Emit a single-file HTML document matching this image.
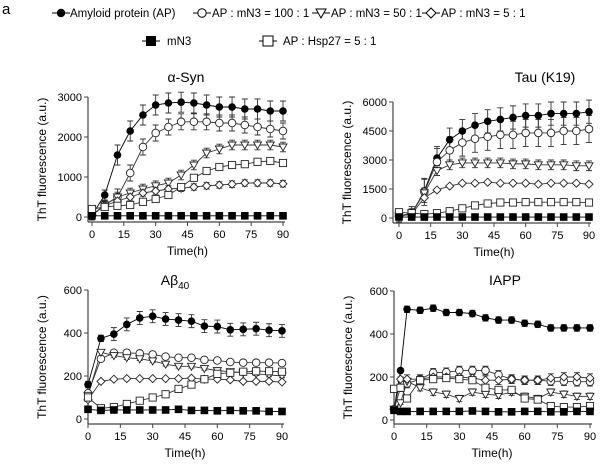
<!DOCTYPE html>
<html><head><meta charset="utf-8"><style>
html,body{margin:0;padding:0;background:#fff;}
svg{display:block;font-family:"Liberation Sans",sans-serif;}
</style></head><body>
<svg id="s" width="600" height="467" viewBox="0 0 600 467" xmlns="http://www.w3.org/2000/svg">
<text x="2" y="14" font-size="15">a</text>
<g font-size="11.5" fill="#000">
<line x1="52" y1="13" x2="70" y2="13" stroke="#000"/><circle cx="61" cy="13" r="4.2" fill="#000"/>
<text x="70" y="17">Amyloid protein (AP)</text>
<line x1="193" y1="13" x2="211" y2="13" stroke="#000"/><circle cx="202" cy="13" r="4.2" fill="#fff" stroke="#000"/>
<text x="212" y="17">AP : mN3 = 100 : 1</text>
<line x1="312" y1="13" x2="330" y2="13" stroke="#000"/><path d="M316,9 L326,9 L321,18 Z" fill="#fff" stroke="#000"/>
<text x="331" y="17">AP : mN3 = 50 : 1</text>
<line x1="422" y1="13" x2="440" y2="13" stroke="#000"/><path d="M431,8 L436,13 L431,18 L426,13 Z" fill="#fff" stroke="#000"/>
<text x="441" y="17">AP : mN3 = 5 : 1</text>
<line x1="142" y1="41" x2="160" y2="41" stroke="#000"/><rect x="146" y="36" width="10" height="10" fill="#000"/>
<text x="167" y="45">mN3</text>
<line x1="259" y1="41" x2="277" y2="41" stroke="#000"/><rect x="263" y="36" width="10" height="10" fill="#fff" stroke="#000"/>
<text x="283" y="45">AP : Hsp27 = 5 : 1</text>
</g>
<g id="plots"></g>
</svg>
<script>
const T=[0,6,12,18,24,30,36,42,48,54,60,66,72,78,84,90];
const TI=[0,3,6,12,18,24,30,36,42,48,54,60,66,72,78,84,90];
const panels=[
{title:'α-Syn',x0:92,x1:283,y0:217,ppu:40/1000,ymax:3000,ticks:[0,1000,2000,3000],ax:88,ay:222,tx:186,ty:82,times:T,
 s:[[50,550,1550,2150,2550,2800,2850,2870,2850,2800,2750,2750,2700,2700,2650,2650],
 [50,300,500,1100,1750,2100,2250,2380,2380,2380,2350,2350,2300,2250,2200,2150],
 [50,300,500,600,700,780,850,1050,1300,1600,1700,1800,1800,1800,1800,1750],
 [50,280,400,500,600,650,700,720,750,780,800,820,850,850,850,830],
 [200,250,280,300,380,450,550,750,980,1150,1250,1300,1320,1380,1400,1350],
 Array(16).fill(30)],err:[250,200,120,80,60,30]},
{title:'Tau (K19)',x0:399,x1:589,y0:218,ppu:29/1500,ymax:6000,ticks:[0,1500,3000,4500,6000],ax:393,ay:223,tx:545,ty:82,times:T,
 s:[[100,200,1400,3100,4050,4500,4800,5000,5100,5200,5300,5300,5400,5400,5400,5500],
 [100,250,1350,2900,3500,3900,4100,4200,4300,4300,4400,4400,4400,4500,4500,4600],
 [100,250,1300,2450,2750,2850,2850,2850,2850,2800,2800,2750,2750,2750,2700,2700],
 [100,200,1050,1450,1650,1800,1800,1850,1800,1800,1800,1750,1800,1800,1800,1750],
 [300,250,200,250,350,500,650,750,800,800,820,820,820,820,820,800],
 Array(16).fill(50)],err:[600,700,250,60,50,30]},
{title:'Aβ',sub:'40',x0:88,x1:282,y0:419,ppu:43/200,ymax:600,ticks:[0,200,400,600],ax:88,ay:424,tx:175,ty:285,times:T,
 s:[[160,375,395,440,470,478,465,460,455,432,430,415,417,420,413,410],
 [120,280,308,308,305,300,290,285,285,275,272,265,262,262,262,260],
 [110,310,295,285,280,270,255,245,245,235,225,220,215,210,205,200],
 [90,175,185,188,188,188,188,188,190,185,185,182,175,175,175,172],
 [100,50,55,70,85,100,115,140,160,185,210,215,220,222,222,220],
 [45,40,42,42,42,42,42,45,40,40,38,40,38,38,35,35]],err:[30,8,8,5,8,3]},
{title:'IAPP',x0:394,x1:590,y0:420,ppu:43/200,ymax:600,ticks:[0,200,400,600],ax:394,ay:424,tx:505,ty:285,times:TI,
 s:[[50,230,515,510,520,500,500,495,475,465,465,450,445,428,428,428,428],
 [50,150,170,190,220,222,230,230,230,210,190,185,185,180,180,178,178],
 [50,80,180,150,130,120,100,130,120,115,130,110,100,130,120,110,110],
 [50,190,190,190,200,200,200,195,185,185,190,185,185,195,200,200,195],
 [145,150,100,185,190,195,190,185,150,140,140,100,95,65,60,60,65],
 [45,40,40,40,40,40,40,42,40,38,38,40,40,38,38,40,40]],err:[15,20,15,20,10,3]}
];
let h='';
const cols=['#000','#333','#333','#333','#333','#000'];
function mk(k,x,y){
 if(k==0)return `<circle cx="${x}" cy="${y}" r="3.8" fill="#000"/>`;
 if(k==1)return `<circle cx="${x}" cy="${y}" r="3.8" fill="#fff" stroke="#222" stroke-width="0.9"/>`;
 if(k==2)return `<path d="M${x-4},${y-3} L${x+4},${y-3} L${x},${y+4} Z" fill="#fff" stroke="#222" stroke-width="0.9"/>`;
 if(k==3)return `<path d="M${x},${y-4} L${x+4},${y} L${x},${y+4} L${x-4},${y} Z" fill="#fff" stroke="#222" stroke-width="0.9"/>`;
 if(k==4)return `<rect x="${x-3.6}" y="${y-3.6}" width="7.2" height="7.2" fill="#fff" stroke="#222" stroke-width="0.9"/>`;
 return `<rect x="${x-3.8}" y="${y-3.8}" width="7.6" height="7.6" fill="#000"/>`;
}
panels.forEach(p=>{
 const X=t=>p.x0+(p.x1-p.x0)*t/90, Y=v=>p.y0-v*p.ppu;
 const ytop=Y(p.ymax);
 h+=`<line x1="${p.ax}" y1="${ytop}" x2="${p.ax}" y2="${p.ay}" stroke="#444" stroke-width="1.2"/>`;
 h+=`<line x1="${p.ax}" y1="${p.ay}" x2="${p.x1+2}" y2="${p.ay}" stroke="#444" stroke-width="1.2"/>`;
 p.ticks.forEach(v=>{h+=`<line x1="${p.ax-4}" y1="${Y(v)}" x2="${p.ax}" y2="${Y(v)}" stroke="#444"/><text x="${p.ax-6}" y="${Y(v)+4}" font-size="11" text-anchor="end">${v}</text>`;});
 [0,15,30,45,60,75,90].forEach(t=>{h+=`<line x1="${X(t)}" y1="${p.ay}" x2="${X(t)}" y2="${p.ay+4}" stroke="#444"/><text x="${X(t)}" y="${p.ay+16}" font-size="11" text-anchor="middle">${t}</text>`;});
 h+=`<text x="${(p.x0+p.x1)/2}" y="${p.ay+33}" font-size="12" text-anchor="middle">Time(h)</text>`;
 const cy=(ytop+p.ay)/2;
 h+=`<text transform="translate(${p.ax-42},${cy}) rotate(-90)" font-size="12" text-anchor="middle">ThT fluorescence (a.u.)</text>`;
 h+=`<text x="${p.tx}" y="${p.ty}" font-size="14" text-anchor="middle">${p.title}${p.sub?`<tspan font-size="10" dy="4">${p.sub}</tspan>`:''}</text>`;
 p.s.forEach((d,k)=>{
  const pts=d.map((v,i)=>X(p.times[i])+','+Y(v)).join(' ');
  h+=`<polyline points="${pts}" fill="none" stroke="${cols[k]}" stroke-width="0.9"/>`;
  d.forEach((v,i)=>{const e=p.err[k]*(i>1?1:0.5)*p.ppu; if(e>1.5){const x=X(p.times[i]),y=Y(v);
   h+=`<path d="M${x},${y-e} V${y+e} M${x-3},${y-e} H${x+3} M${x-3},${y+e} H${x+3}" stroke="#333" stroke-width="0.9" fill="none"/>`;}});
 });
 p.s.forEach((d,k)=>{d.forEach((v,i)=>{h+=mk(k,X(p.times[i]),Y(v));});});
});
document.getElementById('plots').innerHTML=h;
</script>
</body></html>
